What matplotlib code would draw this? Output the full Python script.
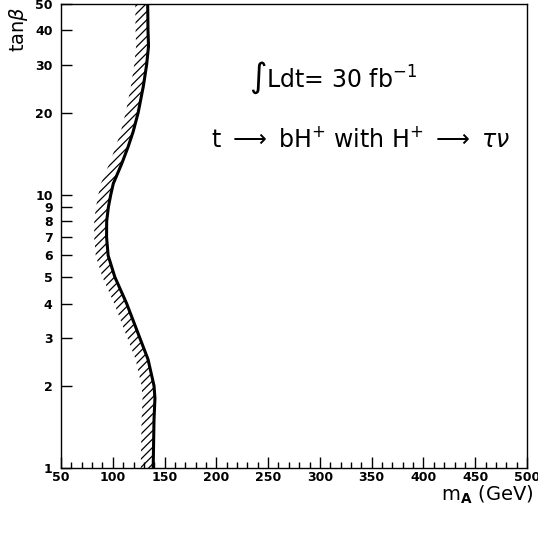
import matplotlib
matplotlib.use("Agg")
import matplotlib.pyplot as plt
from matplotlib.ticker import FixedLocator, MultipleLocator

# データ: 排除曲線 (m_A, tanβ)
tanb = [1.0, 1.5, 1.8, 2.0, 2.5, 3.0, 4.0, 5.0, 6.0, 7.0, 8.0, 9.0, 10.0,
        11.0, 13.0, 15.0, 17.0, 20.0, 25.0, 30.0, 35.0, 40.0, 50.0]
m_a = [139.0, 139.8, 140.7, 139.8, 134.0, 126.0, 113.4, 102.0, 95.5, 94.0, 94.1, 95.7, 98.0,
       100.5, 108.6, 114.8, 119.6, 124.5, 129.5, 132.7, 134.5, 134.0, 133.7]
band_width = 12.0

yticks = [1, 2, 3, 4, 5, 6, 7, 8, 9, 10, 20, 30, 40, 50]
xticks = [50, 100, 150, 200, 250, 300, 350, 400, 450, 500]

plt.rcParams['hatch.linewidth'] = 0.9

fig = plt.figure(figsize=(5.38, 5.33), dpi=100)
ax = fig.add_axes([0.1134, 0.122, 0.8662, 0.8705])

# 斜線の帯
left = [m - band_width for m in m_a]
ax.fill_betweenx(tanb, left, m_a, facecolor='none', edgecolor='black',
                 hatch='////', linewidth=0)
ax.plot(m_a, tanb, color='black', lw=2.2)

ax.set_yscale('log')
ax.set_xlim(50, 500)
ax.set_ylim(1, 50)

ax.yaxis.set_major_locator(FixedLocator(yticks))
ax.yaxis.set_minor_locator(FixedLocator([]))
ax.set_yticklabels([str(t) for t in yticks])
ax.xaxis.set_major_locator(FixedLocator(xticks))
ax.xaxis.set_minor_locator(MultipleLocator(10))

ax.tick_params(axis='both', which='major', direction='in', length=8, width=1,
               labelsize=9, top=False, right=False)
ax.tick_params(axis='x', which='minor', direction='in', length=4, width=1, top=False)
for lab in ax.get_xticklabels() + ax.get_yticklabels():
    lab.set_fontweight('bold')
ax.tick_params(axis='y', pad=6)
ax.tick_params(axis='x', pad=2)

for s in ax.spines.values():
    s.set_linewidth(1.0)

ax.text(313, 26.8, r'$\int$Ldt= 30 fb$^{-1}$', fontsize=17, ha='center', va='center')
ax.text(339, 15.9, r't $\longrightarrow$ bH$^{+}$ with H$^{+}$ $\longrightarrow$ $\tau\nu$',
        fontsize=17, ha='center', va='center')

fig.text(0.035, 0.945, r'tan$\beta$', rotation=90, fontsize=14, ha='center', va='center')
fig.text(0.905, 0.072, r'm$_{\mathbf{A}}$ (GeV)', fontsize=14, ha='center', va='center')

fig.savefig('out.png', dpi=100)
